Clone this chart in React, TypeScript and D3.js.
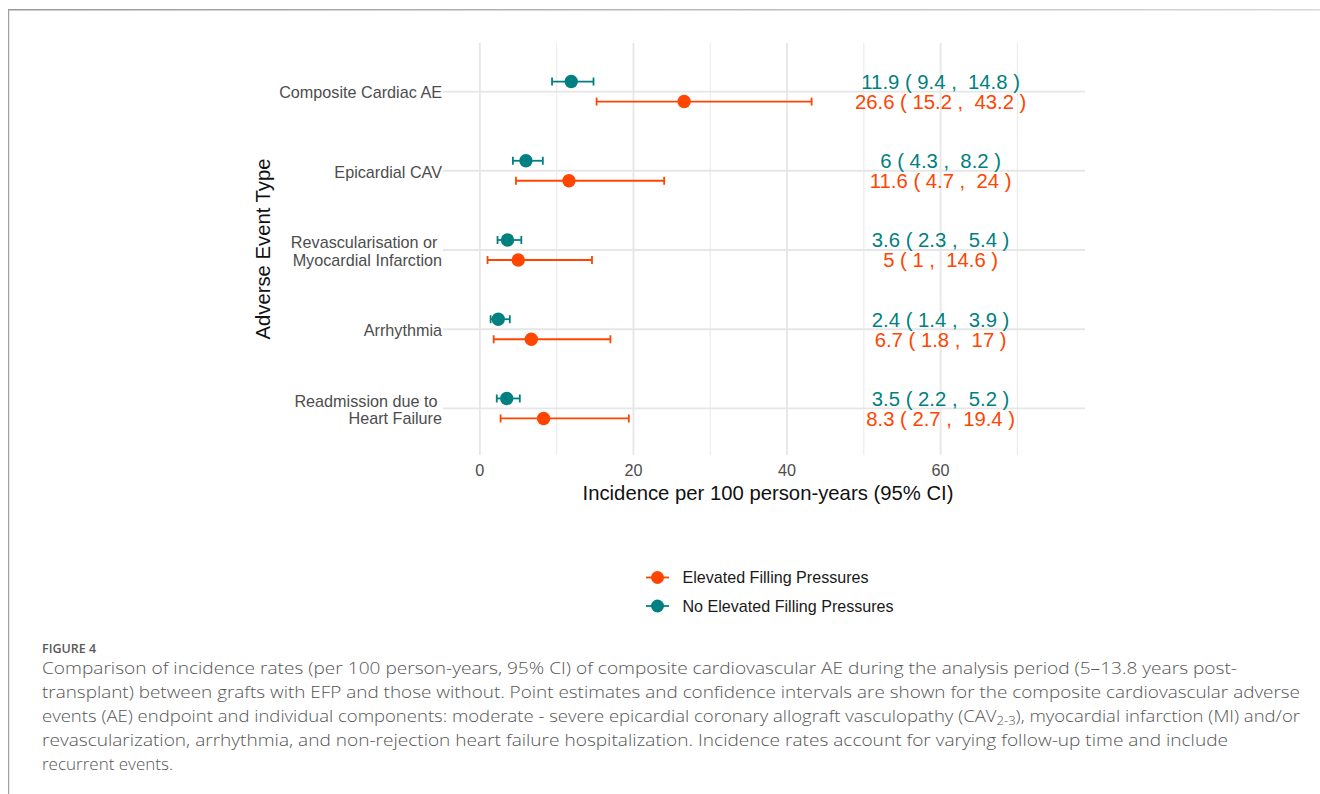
import * as d3 from 'd3';

const categories = [
  'Composite Cardiac AE',
  'Epicardial CAV',
  'Revascularisation or |Myocardial Infarction',
  'Arrhythmia',
  'Readmission due to |Heart Failure',
];

// No Elevated Filling Pressures
const noEfpEst = [11.9, 6, 3.6, 2.4, 3.5];
const noEfpLo = [9.4, 4.3, 2.3, 1.4, 2.2];
const noEfpHi = [14.8, 8.2, 5.4, 3.9, 5.2];

// Elevated Filling Pressures
const efpEst = [26.6, 11.6, 5, 6.7, 8.3];
const efpLo = [15.2, 4.7, 1, 1.8, 2.7];
const efpHi = [43.2, 24, 14.6, 17, 19.4];

const xTicks = [0, 20, 40, 60];
const xMinor = [10, 30, 50, 70];
const labelAt = 60;

const groups = ['No Elevated Filling Pressures', 'Elevated Filling Pressures'];
const legendOrder = ['Elevated Filling Pressures', 'No Elevated Filling Pressures'];
const colors: Record<string, string> = {
  'Elevated Filling Pressures': '#ff4500',
  'No Elevated Filling Pressures': '#008080',
};

const captionLines = [
  'Comparison of incidence rates (per 100 person-years, 95% CI) of composite cardiovascular AE during the analysis period (5–13.8 years post-',
  'transplant) between grafts with EFP and those without. Point estimates and confidence intervals are shown for the composite cardiovascular adverse',
  'events (AE) endpoint and individual components: moderate - severe epicardial coronary allograft vasculopathy (CAV',
  'revascularization, arrhythmia, and non-rejection heart failure hospitalization. Incidence rates account for varying follow-up time and include',
  'recurrent events.',
];
const captionWidths = [1195, 1258, 1258, 1186, 0];

const W = 1320;
const H = 794;
const panel = { left: 443, right: 1085, top: 43, bottom: 455 };
const FONT = '"Liberation Sans", Arial, sans-serif';
const CAP_FONT = '"Open Sans", "Noto Sans", sans-serif';

const fmt = (v: number) => String(v);

export default function App() {
  const x = d3.scaleLinear().domain([-4.8, 78.8]).range([panel.left, panel.right]);
  const y = d3.scalePoint<string>().domain(categories).range([panel.top + 1, panel.bottom + 1]).padding(0.6);
  const dodge = d3.scalePoint<string>().domain(groups).range([-10, 10]);

  const series = [
    { name: groups[0], est: noEfpEst, lo: noEfpLo, hi: noEfpHi },
    { name: groups[1], est: efpEst, lo: efpLo, hi: efpHi },
  ];

  return (
    <svg width={W} height={H} style={{ position: 'absolute', left: 0, top: 0, background: '#fff' }}>
      <defs>
        <linearGradient id="topBorder" x1="0" x2="1" y1="0" y2="0">
          <stop offset="0" stopColor="#9a9a9a" />
          <stop offset="1" stopColor="#d8d8d8" />
        </linearGradient>
      </defs>
      {/* card border */}
      <rect x={8} y={9} width={W - 8} height={1.5} fill="url(#topBorder)" />
      <rect x={8} y={9} width={1.2} height={H - 9} fill="#a0a0a0" />

      {/* grid */}
      {xMinor.map((v) => (
        <line key={'mn' + v} x1={x(v)} x2={x(v)} y1={panel.top} y2={panel.bottom} stroke="#ececec" strokeWidth={1.2} />
      ))}
      {xTicks.map((v) => (
        <line key={'mj' + v} x1={x(v)} x2={x(v)} y1={panel.top} y2={panel.bottom} stroke="#e6e6e6" strokeWidth={1.8} />
      ))}
      {categories.map((c) => (
        <line key={'h' + c} x1={panel.left} x2={panel.right} y1={y(c)!} y2={y(c)!} stroke="#e6e6e6" strokeWidth={1.8} />
      ))}

      {/* error bars & points */}
      {series.map((s) =>
        categories.map((c, i) => {
          const cy = y(c)! + dodge(s.name)!;
          const col = colors[s.name];
          return (
            <g key={s.name + c}>
              <line x1={x(s.lo[i])} x2={x(s.hi[i])} y1={cy} y2={cy} stroke={col} strokeWidth={1.8} />
              <line x1={x(s.lo[i])} x2={x(s.lo[i])} y1={cy - 4} y2={cy + 4} stroke={col} strokeWidth={1.8} />
              <line x1={x(s.hi[i])} x2={x(s.hi[i])} y1={cy - 4} y2={cy + 4} stroke={col} strokeWidth={1.8} />
              <circle cx={x(s.est[i])} cy={cy} r={6.7} fill={col} />
              <text
                x={x(labelAt)}
                y={cy}
                dy="0.36em"
                textAnchor="middle"
                fontFamily={FONT}
                fontSize={20.3}
                fill={col}
                style={{ whiteSpace: 'pre' }}
              >
                {`${fmt(s.est[i])} ( ${fmt(s.lo[i])} ,  ${fmt(s.hi[i])} )`}
              </text>
            </g>
          );
        }),
      )}

      {/* y axis labels */}
      {categories.map((c) => {
        const parts = c.split('|');
        const lh = 17.5;
        const y0 = y(c)! + 1 - ((parts.length - 1) * lh) / 2;
        return (
          <text key={'yl' + c} textAnchor="end" fontFamily={FONT} fontSize={16.2} fill="#4d4d4d" style={{ whiteSpace: 'pre' }}>
            {parts.map((p, k) => (
              <tspan key={k} x={442} y={y0 + k * lh} dy="0.36em">
                {p}
              </tspan>
            ))}
          </text>
        );
      })}

      {/* x axis ticks */}
      {xTicks.map((v) => (
        <text key={'xt' + v} x={x(v)} y={470} dy="0.36em" textAnchor="middle" fontFamily={FONT} fontSize={16.2} fill="#4d4d4d">
          {v}
        </text>
      ))}

      {/* axis titles */}
      <text x={768} y={493} dy="0.36em" textAnchor="middle" fontFamily={FONT} fontSize={20.3} fill="#111">
        Incidence per 100 person-years (95% CI)
      </text>
      <text
        transform={`translate(263, ${(panel.top + panel.bottom) / 2}) rotate(-90)`}
        dy="0.36em"
        textAnchor="middle"
        fontFamily={FONT}
        fontSize={20.3}
        fill="#111"
      >
        Adverse Event Type
      </text>

      {/* legend */}
      {legendOrder.map((g, i) => {
        const ly = 577.5 + i * 28.5;
        return (
          <g key={'lg' + g}>
            <line x1={646} x2={669} y1={ly} y2={ly} stroke={colors[g]} strokeWidth={1.8} />
            <circle cx={657.5} cy={ly} r={6.5} fill={colors[g]} />
            <text x={682.5} y={ly} dy="0.36em" fontFamily={FONT} fontSize={16.1} fill="#1a1a1a">
              {g}
            </text>
          </g>
        );
      })}

      {/* caption */}
      <text x={42} y={652.5} fontFamily={CAP_FONT} fontWeight={600} fontSize={12.5} fill="#5a5a5a">
        FIGURE 4
      </text>
      {captionLines.map((line, i) => (
        <text
          key={'cap' + i}
          x={42}
          y={674 + i * 24}
          fontFamily={CAP_FONT}
          fontWeight={300}
          fontSize={17}
          fill="#555"
          textLength={captionWidths[i] || undefined}
          lengthAdjust={captionWidths[i] ? 'spacingAndGlyphs' : undefined}
        >
          {line}
          {i === 2 ? (
            <>
              <tspan fontSize={12} dy={3}>
                2-3
              </tspan>
              <tspan dy={-3}>), myocardial infarction (MI) and/or</tspan>
            </>
          ) : null}
        </text>
      ))}
    </svg>
  );
}
